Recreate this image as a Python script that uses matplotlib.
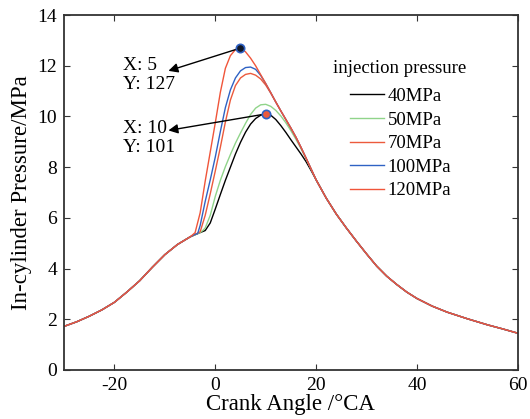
import matplotlib
matplotlib.use("Agg")
import matplotlib.pyplot as plt

plt.rcParams['font.family'] = ['Liberation Serif', 'DejaVu Serif']
plt.rcParams['axes.unicode_minus'] = False

# ---- data ----
angle_pre = [-30, -27.5, -25, -22.5, -20, -17.5, -15, -12.5, -10, -7.5, -5]
p_pre = [1.72, 1.9, 2.12, 2.37, 2.67, 3.08, 3.52, 4.05, 4.55, 4.95, 5.25]

angle_post = [20, 22, 24, 26, 28, 30, 32, 34, 36, 38, 40, 43, 46, 50, 54, 57, 60]
p_post = [7.5, 6.78, 6.15, 5.6, 5.08, 4.58, 4.1, 3.7, 3.37, 3.07, 2.82, 2.52, 2.28,
          2.02, 1.78, 1.62, 1.45]

angle_40 = [-3, -2, -1, 0, 1, 2, 3, 4, 5, 6, 7, 8, 9, 10, 11, 12, 13, 14, 15, 16,
            17, 18, 19]
p_40 = [5.42, 5.5, 5.8, 6.35, 6.92, 7.48, 8.0, 8.52, 8.98, 9.38, 9.7, 9.92, 10.05,
        10.1, 10.05, 9.88, 9.64, 9.37, 9.08, 8.8, 8.52, 8.22, 7.87]

angle_50 = [-3, -2.5, -2, -1, 0, 1, 2, 3, 4, 5, 6, 7, 8, 9, 10, 11, 12, 13, 14,
            15, 16, 17, 18, 19]
p_50 = [5.42, 5.5, 5.6, 6.1, 6.85, 7.48, 8.02, 8.5, 8.95, 9.35, 9.73, 10.08, 10.33,
        10.46, 10.48, 10.4, 10.24, 10.02, 9.75, 9.44, 9.1, 8.73, 8.33, 7.92]

angle_70 = [-4, -3, -2, -1, 0, 1, 2, 3, 4, 5, 6, 7, 8, 9, 10, 11, 12, 13, 14, 15,
            16, 17, 18, 19]
p_70 = [5.35, 5.45, 6.1, 6.95, 7.85, 8.78, 9.78, 10.65, 11.22, 11.52, 11.66, 11.7,
        11.63, 11.48, 11.24, 10.92, 10.57, 10.22, 9.88, 9.54, 9.18, 8.78, 8.36, 7.93]

angle_100 = [-4, -3.5, -3, -2, -1, 0, 1, 2, 3, 4, 5, 6, 7, 8, 9, 10, 11, 12, 13,
             14, 15, 16, 17, 18, 19]
p_100 = [5.35, 5.38, 5.7, 6.65, 7.5, 8.4, 9.4, 10.35, 11.05, 11.52, 11.8, 11.93,
         11.95, 11.86, 11.62, 11.3, 10.94, 10.57, 10.22, 9.88, 9.54, 9.18, 8.78,
         8.36, 7.93]

angle_120 = [-4.5, -4, -3, -2, -1, 0, 1, 2, 3, 4, 5, 6, 7, 8, 9, 10, 11, 12, 13,
             14, 15, 16, 17, 18, 19]
p_120 = [5.33, 5.42, 6.2, 7.45, 8.6, 9.75, 10.95, 11.9, 12.4, 12.64, 12.7, 12.55,
         12.3, 12.0, 11.65, 11.3, 10.94, 10.57, 10.22, 9.88, 9.54, 9.18, 8.78,
         8.36, 7.93]

series_labels = ['40MPa', '50MPa', '70MPa', '100MPa', '120MPa']
series_colors = ['#000000', '#90d48a', '#ec5a3c', '#2f62c4', '#f0553a']
legend_title = 'injection pressure'

tip1_xy = (5, 12.7)
tip1_text = 'X: 5\nY: 127'
tip2_xy = (10, 10.1)
tip2_text = 'X: 10\nY: 101'

xticks = [-20, 0, 20, 40, 60]
yticks = [0, 2, 4, 6, 8, 10, 12, 14]

# ---- figure ----
fig = plt.figure(figsize=(5.30, 4.19), dpi=100)
ax = fig.add_axes([0.1208, 0.117, 0.8562, 0.847])

all_series = [(angle_40, p_40), (angle_50, p_50), (angle_70, p_70),
              (angle_100, p_100), (angle_120, p_120)]
for (a, p), lab, col in zip(all_series, series_labels, series_colors):
    x = [v for v in angle_pre if v < a[0]] + a + angle_post
    y = [v for v, av in zip(p_pre, angle_pre) if av < a[0]] + p + p_post
    ax.plot(x, y, color=col, lw=1.0, label=lab)

# data tips
ax.plot(*tip1_xy, 'o', ms=6, mfc='#101828', mec='#2f62c4', mew=1.2, zorder=5)
ax.plot(*tip2_xy, 'o', ms=6, mfc='#ec5a3c', mec='#2f62c4', mew=1.2, zorder=5)

ax.text(-18.3, 11.64, tip1_text, fontsize=14, va='center', ha='left',
        linespacing=1.15)
ax.text(-18.3, 9.16, tip2_text, fontsize=14, va='center', ha='left',
        linespacing=1.15)
ax.annotate('', xy=(-9.3, 11.8), xytext=tip1_xy,
            arrowprops=dict(arrowstyle='-|>', color='black', lw=1.0,
                            mutation_scale=14, shrinkA=3, shrinkB=0))
ax.annotate('', xy=(-9.3, 9.45), xytext=tip2_xy,
            arrowprops=dict(arrowstyle='-|>', color='black', lw=1.0,
                            mutation_scale=14, shrinkA=3, shrinkB=0))

ax.set_xlim(-30, 60)
ax.set_ylim(0, 14)
ax.set_xticks(xticks)
ax.set_yticks(yticks)
ax.tick_params(direction='in', length=4, width=0.8, top=True, right=True,
               labelsize=14, pad=5, color='#333333')
for s in ax.spines.values():
    s.set_linewidth(1.3)
    s.set_color('#333333')

ax.set_xlabel('Crank Angle /°CA', fontsize=16.5, labelpad=0)
ax.set_ylabel('In-cylinder Pressure/MPa', fontsize=16.5, labelpad=4)

ax.text(0.7395, 0.849, legend_title, transform=ax.transAxes, fontsize=13.5,
        ha='center', va='center')
leg = ax.legend(loc='upper left', bbox_to_anchor=(0.630, 0.795),
                frameon=False, fontsize=13.5, handlelength=1.8,
                handletextpad=0.2, labelspacing=0.345, borderaxespad=0,
                borderpad=0)

fig.savefig('out.png', dpi=100)
